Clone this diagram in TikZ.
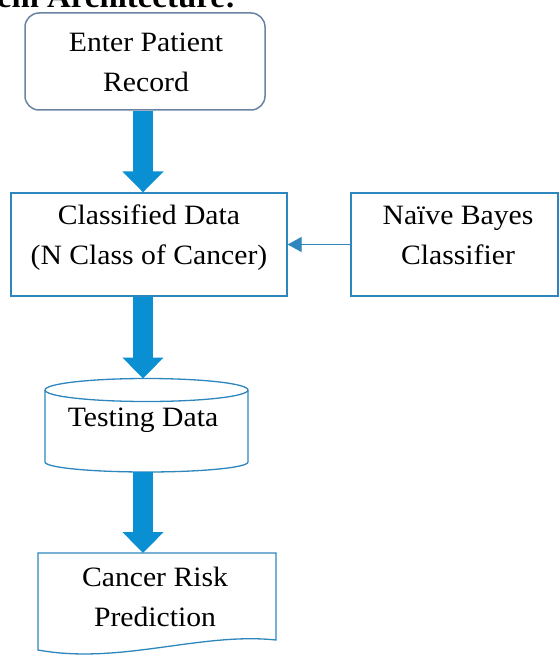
\documentclass[tikz,border=0pt]{standalone}
\usepackage{fontspec}
\setmainfont{Liberation Serif}[FakeStretch=1.06]
\usetikzlibrary{arrows.meta}
\definecolor{boxblue}{HTML}{2E86BE}
\definecolor{roundgray}{HTML}{6A83A3}
\definecolor{arrfill}{HTML}{0A8FD2}
\definecolor{arredge}{HTML}{1870A8}
\tikzset{
  boxline/.style={draw=boxblue, line width=1.3pt},
  txt/.style={font=\fontsize{28}{40}\selectfont, align=center, inner sep=0pt},
  bigarrow/.style={draw=arrfill, line width=20pt, -{Triangle[width=40pt,length=21pt]}},
  thinarrow/.style={draw=boxblue, line width=1.3pt, -{Triangle[width=15pt,length=14pt]}},
}
\begin{document}
\begin{tikzpicture}[x=1pt,y=-1pt]
\clip (0,0) rectangle (559,658);
\fill[white] (0,0) rectangle (559,658);
% cut title
\node[anchor=base east, inner sep=0pt, font=\fontsize{31}{36}\selectfont\bfseries] (title) at (236,8) {System Architecture:};
% boxes
\node[draw=roundgray, line width=1.5pt, rounded corners=14pt, minimum width=240pt, minimum height=97pt, inner sep=0pt] (enter) at (145,61.5) {};
\node[txt] (enterT) at (146,62.5) {Enter Patient\\Record};
\node[boxline, minimum width=276pt, minimum height=103pt, inner sep=0pt] (cls) at (149,244.5) {};
\node[txt] (clsT) at (149,238) {Classified Data\\(N Class of Cancer)};
\node[boxline, minimum width=207pt, minimum height=103pt, inner sep=0pt] (nb) at (454.5,244.5) {};
\node[txt] (nbT) at (458,235) {Naïve Bayes\\Classifier};
% cylinder
\draw[boxline] (45,390) -- (45,462) arc[start angle=180, end angle=360, x radius=101.5pt, y radius=10pt] -- (248,390);
\draw[boxline] (146.5,390) ellipse [x radius=101.5pt, y radius=11.5pt];
\coordinate (cylTop) at (146.5,378.5);
\coordinate (cylBot) at (146.5,472);
\node[txt] (test) at (143,420) {Testing Data};
% document
\draw[boxline] (38,553) -- (276,553) -- (276,640) .. controls (200,632) and (120,665) .. (38,650) -- cycle;
\coordinate (docTop) at (157,553);
\node[txt] (docT) at (155,597) {Cancer Risk\\Prediction};
% arrows
\coordinate (ax) at (143,0);
\draw[bigarrow] (enter.south -| ax) -- (cls.north -| ax);
\draw[bigarrow] (cls.south -| ax) -- (cylTop -| ax);
\draw[bigarrow] (cylBot -| ax) -- (docTop -| ax);
\draw[thinarrow] (nb.west) -- (cls.east);
\end{tikzpicture}
\end{document}
